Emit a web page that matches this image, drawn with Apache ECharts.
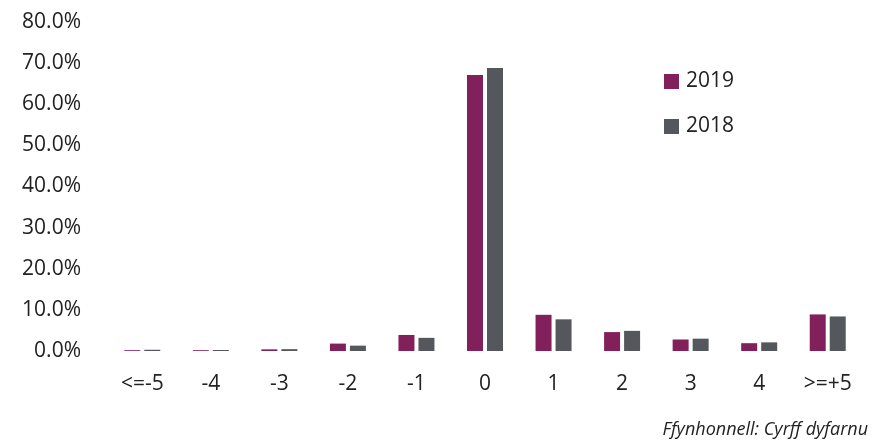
<!DOCTYPE html>
<html lang="cy">
  <head>
    <meta charset="UTF-8" />
    <title>Chart</title>
    <script src="https://cdn.jsdelivr.net/npm/echarts@6/dist/echarts.min.js"></script>
    <style>
      html, body { margin: 0; padding: 0; background: #fff; }
    </style>
  </head>
  <body>
    <div id="main" style="width: 883px; height: 442px"></div>
    <script>
      var categories = ["<=-5", "-4", "-3", "-2", "-1", "0", "1", "2", "3", "4", ">=+5"];
      var values2019 = [0.2, 0.2, 0.4, 1.8, 3.9, 67.1, 8.8, 4.6, 2.8, 1.9, 8.9];
      var values2018 = [0.3, 0.25, 0.45, 1.3, 3.2, 68.8, 7.7, 4.9, 3.0, 2.1, 8.4];
      var yTicks = [0, 10, 20, 30, 40, 50, 60, 70, 80];

      var font = "'Open Sans', sans-serif";
      var myChart = echarts.init(document.getElementById("main"));

      var option = {
        animation: false,
        textStyle: { fontFamily: font },
        grid: { left: 108, right: 21, top: 22, bottom: 91 },
        legend: {
          orient: "vertical",
          left: 659,
          top: 66,
          itemWidth: 15,
          itemHeight: 15,
          itemGap: 24,
          icon: "rect",
          data: ["2019", "2018"],
          textStyle: { fontSize: 21, color: "#222", fontFamily: font, padding: [0, 0, 0, 2] }
        },
        xAxis: {
          type: "category",
          data: categories,
          axisLine: { show: false },
          axisTick: { show: false },
          axisLabel: { fontSize: 21, color: "#222", margin: 23, interval: 0 }
        },
        yAxis: {
          type: "value",
          min: 0,
          max: 80,
          interval: 10,
          splitLine: { show: false },
          axisLine: { show: false },
          axisTick: { show: false },
          axisLabel: {
            fontSize: 21,
            color: "#222",
            margin: 27,
            formatter: function (v) {
              return yTicks.indexOf(v) >= 0 ? v.toFixed(1) + "%" : "";
            }
          }
        },
        series: [
          {
            name: "2019",
            type: "bar",
            data: values2019,
            barWidth: 16,
            barGap: "25%",
            itemStyle: { color: "#82205c" }
          },
          {
            name: "2018",
            type: "bar",
            data: values2018,
            barWidth: 16,
            itemStyle: { color: "#54575c" }
          }
        ],
        graphic: [
          {
            type: "text",
            right: 15,
            top: 421,
            style: {
              text: "Ffynhonnell: Cyrff dyfarnu",
              font: "italic 18px " + font,
              fill: "#222"
            }
          }
        ]
      };

      myChart.setOption(option);
    </script>
  </body>
</html>
